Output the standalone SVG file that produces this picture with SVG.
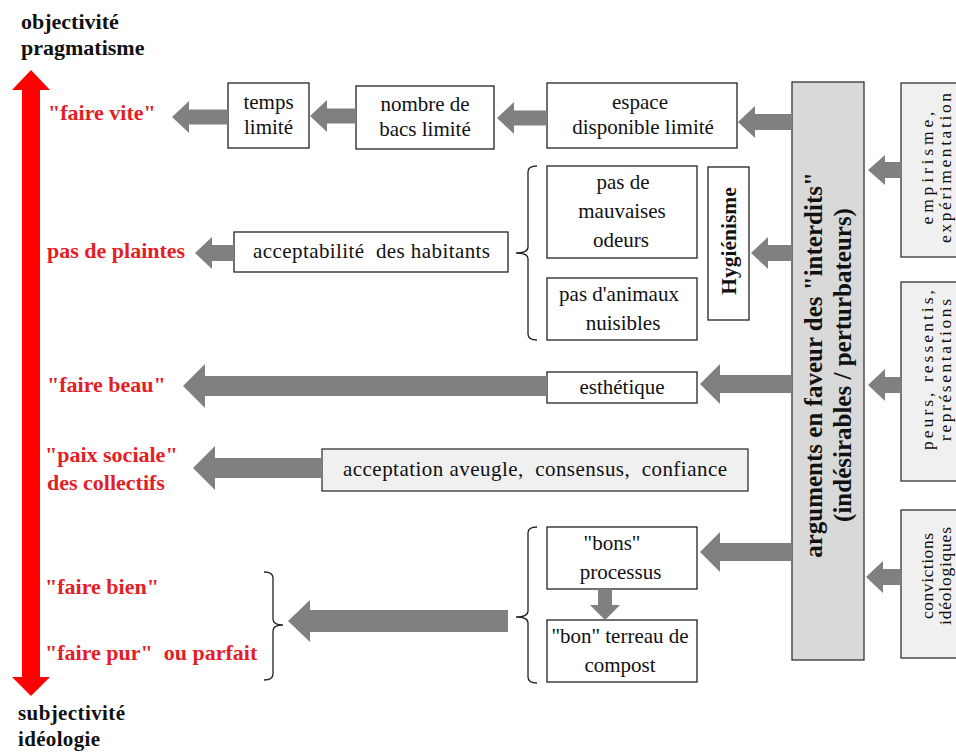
<svg xmlns="http://www.w3.org/2000/svg" width="956" height="752" viewBox="0 0 956 752" font-family="'Liberation Serif', 'DejaVu Serif', serif">
<style>
text{font-family:'Liberation Serif','DejaVu Serif',serif;fill:#111}
.ax{font-size:22px;font-weight:bold}
.ax2{font-size:21px;font-weight:bold}
.red{font-size:22px;font-weight:bold;fill:#e41e26}
.t{font-size:21px;text-anchor:middle}
.tr{font-size:17.5px;text-anchor:middle}
.big{font-size:25px;font-weight:bold;text-anchor:middle}
.box{fill:#fff;stroke:#222;stroke-width:1.3}
.gbox{fill:#f0f0f0;stroke:#333;stroke-width:1.3}
.bigbox{fill:#d9d9d9;stroke:#333;stroke-width:1.3}
.arr{fill:#808080}
.br{fill:none;stroke:#222;stroke-width:1.3}
</style>
<rect width="956" height="752" fill="#fff"/>
<g id="axis">
<polygon points="31,70 12,90 22,90 22,677 12,677 31,696 50,677 40,677 40,90 50,90" fill="#ff0000"/>
<text class="ax" x="21" y="29">objectivité</text>
<text class="ax" x="21" y="55">pragmatisme</text>
<text class="ax2" x="18" y="720" textLength="107">subjectivité</text>
<text class="ax2" x="18" y="746" textLength="82">idéologie</text>
</g>
<g id="labels">
<text class="red" x="48" y="120">"faire vite"</text>
<text class="red" x="47" y="258">pas de plaintes</text>
<text class="red" x="47" y="392">"faire beau"</text>
<text class="red" x="45" y="462">"paix sociale"</text>
<text class="red" x="47" y="490">des collectifs</text>
<text class="red" x="45" y="594">"faire bien"</text>
<text class="red" x="45" y="660" xml:space="preserve">"faire pur"  ou parfait</text>
</g>
<g id="n-temps"><rect class="box" x="228" y="83" width="81" height="65"/><text class="t" x="268.5" y="109">temps</text><text class="t" x="268.5" y="134">limité</text></g>
<g id="n-nombre"><rect class="box" x="356" y="86" width="138" height="63"/><text class="t" x="425" y="111">nombre de</text><text class="t" x="425" y="136">bacs limité</text></g>
<g id="n-espace"><rect class="box" x="547" y="83" width="190" height="65"/><text class="t" x="640" y="109">espace</text><text class="t" x="643" y="134">disponible limité</text></g>
<g id="n-odeurs"><rect class="box" x="547" y="166" width="150" height="92"/><text class="t" x="623" y="189">pas de</text><text class="t" x="622" y="218">mauvaises</text><text class="t" x="621" y="247">odeurs</text></g>
<g id="n-animaux"><rect class="box" x="547" y="278" width="150" height="62"/><text class="t" x="619" y="301">pas d'animaux</text><text class="t" x="623" y="330">nuisibles</text></g>
<g id="n-hyg"><rect class="box" x="708" y="167" width="41" height="153"/><text transform="translate(729,241) rotate(-90)" x="0" y="7" style="font-size:21.5px;font-weight:bold;text-anchor:middle">Hygiénisme</text></g>
<g id="n-accept"><rect class="box" x="234" y="232" width="274" height="40"/><text class="t" x="371.5" y="258" textLength="237" xml:space="preserve">acceptabilité  des habitants</text></g>
<g id="n-esth"><rect class="box" x="547" y="372" width="150" height="31"/><text class="t" x="622" y="394">esthétique</text></g>
<g id="n-acc2"><rect class="gbox" x="322" y="449" width="426" height="42"/><text class="t" x="535" y="476" textLength="384" xml:space="preserve">acceptation aveugle,  consensus,  confiance</text></g>
<g id="n-bons"><rect class="box" x="547" y="527" width="150" height="62"/><text class="t" x="612" y="550">"bons"</text><text class="t" x="620.5" y="579">processus</text></g>
<g id="n-terreau"><rect class="box" x="547" y="620" width="150" height="62"/><text class="t" x="620" y="643">"bon" terreau de</text><text class="t" x="620" y="672">compost</text></g>
<g id="n-big"><rect class="bigbox" x="792" y="82" width="72" height="578"/><text class="big" transform="translate(828,365) rotate(-90)"><tspan x="0" y="-6">arguments en faveur des "interdits"</tspan><tspan x="0" y="23">(indésirables / perturbateurs)</tspan></text></g>
<g id="n-emp"><rect class="gbox" x="901" y="83" width="70" height="174"/><text class="tr" transform="translate(930,168) rotate(-90)"><tspan x="0" y="3" textLength="113">empirisme,</tspan><tspan x="0" y="21" textLength="150">expérimentation</tspan></text></g>
<g id="n-peurs"><rect class="gbox" x="901" y="282" width="70" height="199"/><text class="tr" transform="translate(930,370) rotate(-90)"><tspan x="0" y="3" textLength="160">peurs, ressentis,</tspan><tspan x="0" y="21" textLength="142">représentations</tspan></text></g>
<g id="n-conv"><rect class="gbox" x="901" y="510" width="70" height="148"/><text class="tr" transform="translate(930,576) rotate(-90)"><tspan x="0" y="3" textLength="86">convictions</tspan><tspan x="0" y="21" textLength="98">idéologiques</tspan></text></g>
<g id="connectors">
<path class="arr" d="M172,117 L189,101 L189,109.5 L228,109.5 L228,124.5 L189,124.5 L189,133 Z"/>
<path class="arr" d="M310,116 L327,100 L327,108.5 L356,108.5 L356,123.5 L327,123.5 L327,132 Z"/>
<path class="arr" d="M497,118 L514,102 L514,110.5 L547,110.5 L547,125.5 L514,125.5 L514,134 Z"/>
<path class="arr" d="M738,122 L755,106 L755,114 L792,114 L792,130 L755,130 L755,138 Z"/>
<path class="arr" d="M868,170 L885,155 L885,162 L901,162 L901,178 L885,178 L885,185 Z"/>
<path class="arr" d="M751,253 L768,237 L768,245 L792,245 L792,261 L768,261 L768,269 Z"/>
<path class="arr" d="M195,253 L212,237 L212,245 L234,245 L234,261 L212,261 L212,269 Z"/>
<path class="arr" d="M183,386 L205,364 L205,376 L547,376 L547,396 L205,396 L205,408 Z"/>
<path class="arr" d="M700,384 L720,364 L720,375 L792,375 L792,393 L720,393 L720,404 Z"/>
<path class="arr" d="M868,385 L885,369 L885,377 L901,377 L901,393 L885,393 L885,401 Z"/>
<path class="arr" d="M193,468 L215,446 L215,458 L322,458 L322,478 L215,478 L215,490 Z"/>
<path class="arr" d="M700,552 L720,532 L720,543 L792,543 L792,561 L720,561 L720,572 Z"/>
<path class="arr" d="M866,577 L883,561 L883,569 L901,569 L901,585 L883,585 L883,593 Z"/>
<path class="arr" d="M288,621 L310,600 L310,610 L508,610 L508,632 L310,632 L310,642 Z"/>
<path class="arr" d="M605,620 L590,605 L598,605 L598,589 L612,589 L612,605 L620,605 Z"/>
<path class="br" d="M537,166 Q528,166 528,172 L528,247 Q528,253 516,253 Q528,253 528,259 L528,334 Q528,340 537,340"/>
<path class="br" d="M537,527 Q528,527 528,533 L528,611 Q528,617 516,617 Q528,617 528,623 L528,677 Q528,683 537,683"/>
<path class="br" d="M264,572 Q273,572 273,578 L273,619 Q273,625 283,625 Q273,625 273,631 L273,674 Q273,680 264,680"/>
</g>
</svg>
